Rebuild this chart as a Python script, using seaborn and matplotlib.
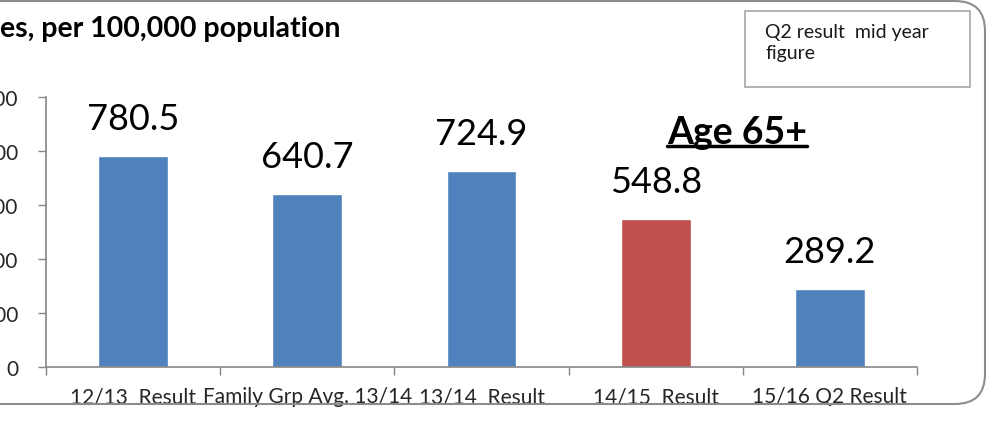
import matplotlib
matplotlib.use("Agg")
import matplotlib.pyplot as plt
from matplotlib.patches import FancyBboxPatch, Rectangle
import seaborn as sns
import pandas as pd

# data
categories = ["12/13  Result", "Family Grp Avg. 13/14", "13/14  Result",
              "14/15  Result", "15/16 Q2 Result"]
values = [780.5, 640.7, 724.9, 548.8, 289.2]
bar_colors = ["#4F81BD", "#4F81BD", "#4F81BD", "#C0504D", "#4F81BD"]
yticks = [0, 200, 400, 600, 800, 1000]

title_text = "es, per 100,000 population"
note_text = "Q2 result  mid year\nfigure"
age_text = "Age 65+"

sns.set_theme(style="white")
plt.rcParams["font.family"] = ["Lato", "DejaVu Sans"]

W, H = 1002, 427
fig = plt.figure(figsize=(W / 100, H / 100), dpi=100)
ax = fig.add_axes([46 / W, 1 - 368 / H, (917 - 46) / W, (368 - 98) / H])

df = pd.DataFrame({"cat": categories, "val": values})
sns.barplot(data=df, x="cat", y="val", hue="cat", palette=bar_colors,
            legend=False, width=0.4, saturation=1, ax=ax)

ax.set_xlim(-0.5, len(categories) - 0.5)
ax.set_ylim(0, 1000)
ax.set_xlabel("")
ax.set_ylabel("")

# y axis (labels clipped by the left edge, as in the reference)
ax.set_yticks(yticks)
ax.set_yticklabels([str(t) for t in yticks])
ax.tick_params(axis="y", direction="out", length=6, width=1, color="#868686",
               pad=14, left=True, labelsize=15)

# x axis: ticks at category boundaries, labels at centres
ax.set_xticks([i - 0.5 for i in range(len(categories) + 1)])
ax.set_xticklabels([])
ax.set_xticks(range(len(categories)), minor=True)
ax.set_xticklabels(categories, minor=True)
ax.tick_params(axis="x", which="major", direction="out", length=6, width=1,
               color="#868686", bottom=True)
ax.tick_params(axis="x", which="minor", length=0, pad=14, labelsize=15)

for side in ["top", "right"]:
    ax.spines[side].set_visible(False)
for side in ["left", "bottom"]:
    ax.spines[side].set_color("#868686")
    ax.spines[side].set_linewidth(1.2)

# value labels
for i, v in enumerate(values):
    ax.annotate(f"{v:.1f}", (i, v), xytext=(0, 15), textcoords="offset points",
                ha="center", va="bottom", fontsize=26, color="black")

# rounded outer frame (left side cut off)
frame = FancyBboxPatch((-60, 22), 1045, 403,
                       boxstyle="round,pad=0,rounding_size=30",
                       transform=None, fill=False, edgecolor="#8c8c8c", lw=1.5)
fig.patches.append(frame)

# note box
note_box = Rectangle((745, H - 88), 225, 76, transform=None, fill=False,
                     edgecolor="#a6a6a6", lw=1.2)
fig.patches.append(note_box)
fig.text(765 / W, 1 - 24 / H, note_text, ha="left", va="top", fontsize=14,
         linespacing=1.25, color="#1a1a1a")

# title, clipped at the left edge like the reference
fig.text(0, 1 - 29 / H, title_text, ha="left", va="center", fontsize=20.5,
         fontweight="bold", color="black")

# Age 65+ label with underline
age = fig.text(737 / W, 1 - 133 / H, age_text, ha="center", va="center",
               fontsize=27, fontweight="bold", color="black")
fig.canvas.draw()
bb = age.get_window_extent(fig.canvas.get_renderer())
fig.add_artist(plt.Line2D([bb.x0 / W, bb.x1 / W], [(bb.y0 + 3) / H] * 2,
                          color="black", lw=2.5))

fig.savefig("out.png", dpi=100)
